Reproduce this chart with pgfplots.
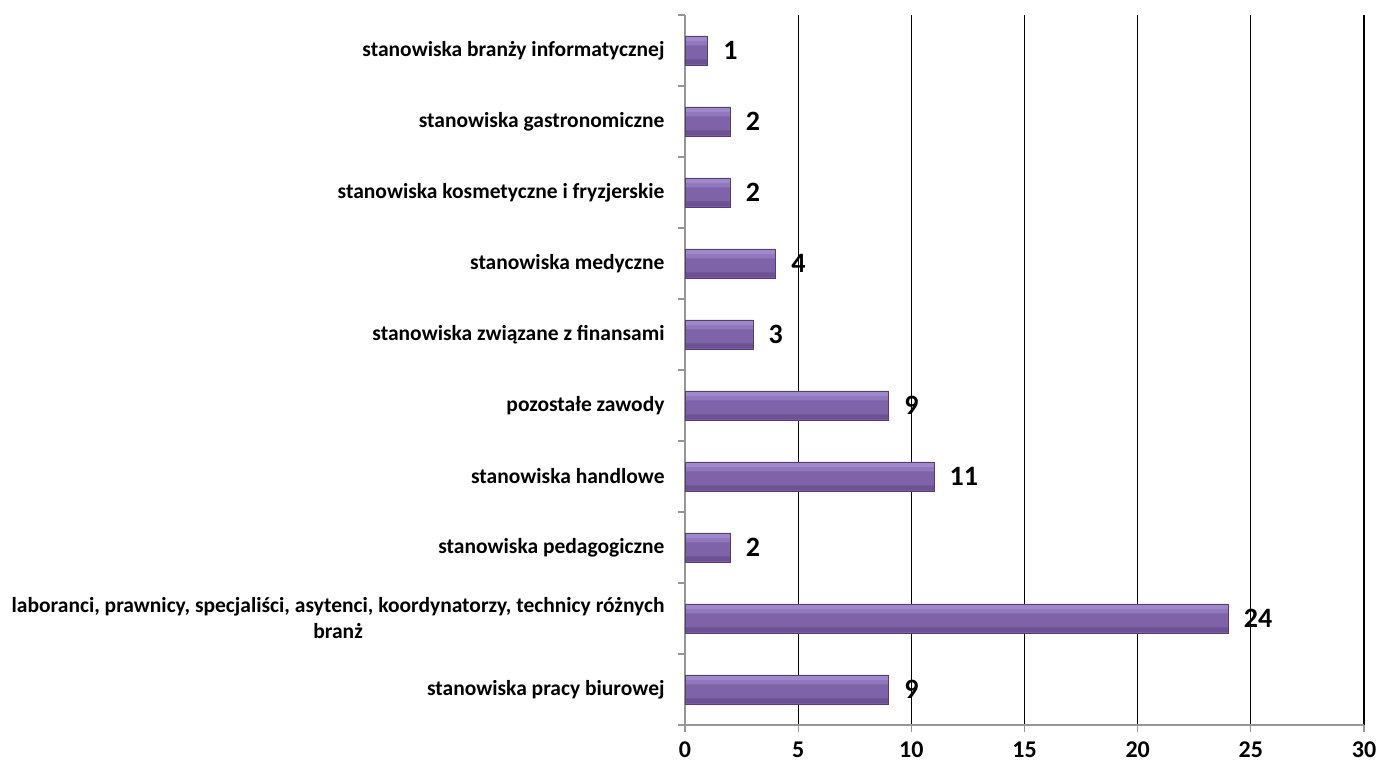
\documentclass[border=0pt]{standalone}
\usepackage{pgfplots}
\pgfplotsset{compat=1.18}
\usepackage{fontspec}
\setmainfont{Carlito}
\definecolor{bartop}{RGB}{160,136,205}
\definecolor{barhi}{RGB}{145,119,188}
\definecolor{barmid}{RGB}{127,99,168}
\definecolor{barlow}{RGB}{108,82,146}
\definecolor{barbot}{RGB}{84,62,116}
\definecolor{axgray}{RGB}{150,150,150}
\begin{document}
\begin{tikzpicture}
\useasboundingbox (0,0) rectangle (1380bp,765bp);
\begin{axis}[
  at={(685bp,40bp)}, anchor=south west,
  scale only axis, width=679bp, height=710bp,
  xbar, bar width=29bp,
  xmin=0, xmax=30, ymin=-0.5, ymax=9.5,
  xtick={0,5,...,30},
  ytick={0,...,9},
  yticklabels={stanowiska pracy biurowej,
    {laboranci, prawnicy, specjaliści, asytenci, koordynatorzy, technicy różnych\\branż},
    stanowiska pedagogiczne, stanowiska handlowe, pozostałe zawody,
    stanowiska związane z finansami, stanowiska medyczne,
    stanowiska kosmetyczne i fryzjerskie, stanowiska gastronomiczne,
    stanowiska branży informatycznej},
  minor ytick={-0.5,0.5,...,9.5},
  axis x line*=bottom, axis y line*=left,
  axis line style={axgray, line width=1.2bp, -},
  major y tick style={draw=none},
  minor y tick style={axgray, line width=1.2bp},
  minor tick length=7bp,
  x tick style={axgray, line width=1.2bp},
  major tick length=7bp,
  xtick align=outside, ytick align=outside,
  xmajorgrids, grid style={black, line width=1.3bp},
  yticklabel style={font=\bfseries\fontsize{21.5bp}{26bp}\selectfont, align=center, xshift=-10bp},
  xticklabel style={font=\bfseries\fontsize{24bp}{26bp}\selectfont, yshift=-6bp},
  /pgf/number format/assume math mode=true,
  clip=false,
]
\addplot[draw=barbot, line width=0.8bp, fill=barmid, bar shift=0bp,
  nodes near coords,
  nodes near coords style={font=\bfseries\fontsize{28bp}{30bp}\selectfont, anchor=west, xshift=12bp, text=black}]
coordinates {(9,0) (24,1) (2,2) (11,3) (9,4) (3,5) (4,6) (2,7) (2,8) (1,9)};
\addplot[draw=none, fill=barhi, bar width=9bp, bar shift=9.5bp]
coordinates {(9,0) (24,1) (2,2) (11,3) (9,4) (3,5) (4,6) (2,7) (2,8) (1,9)};
\addplot[draw=none, fill=bartop, bar width=4.5bp, bar shift=11.6bp]
coordinates {(9,0) (24,1) (2,2) (11,3) (9,4) (3,5) (4,6) (2,7) (2,8) (1,9)};
\addplot[draw=none, fill=barlow, bar width=5bp, bar shift=-11.5bp]
coordinates {(9,0) (24,1) (2,2) (11,3) (9,4) (3,5) (4,6) (2,7) (2,8) (1,9)};
\addplot[draw=barbot, line width=0.8bp, fill=none, bar shift=0bp]
coordinates {(9,0) (24,1) (2,2) (11,3) (9,4) (3,5) (4,6) (2,7) (2,8) (1,9)};
\end{axis}
\end{tikzpicture}
\end{document}
